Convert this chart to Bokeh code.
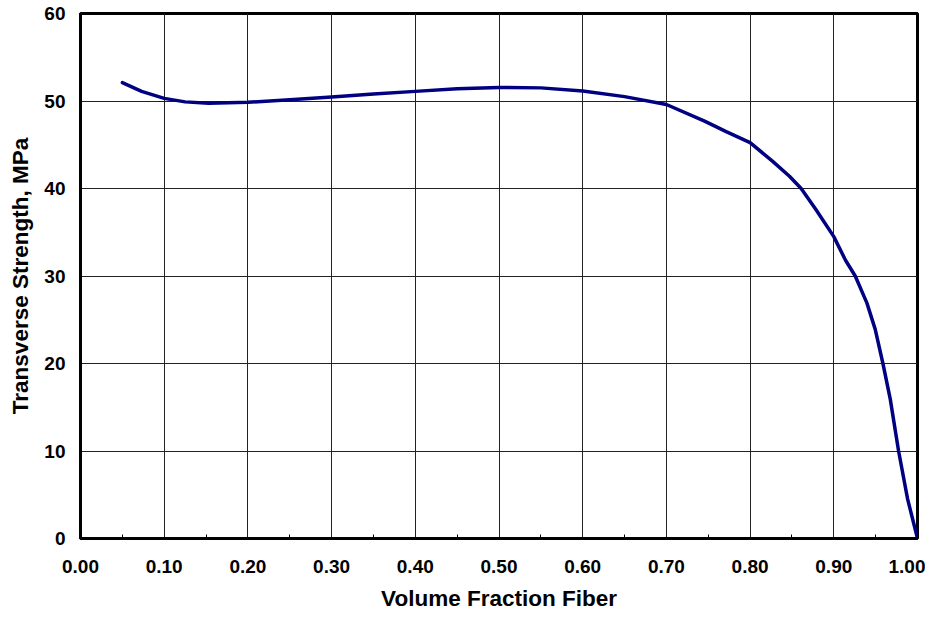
from bokeh.plotting import figure
from bokeh.models import FixedTicker, NumeralTickFormatter, Range1d
from bokeh.embed import file_html
from bokeh.resources import INLINE

# Data
fiber_fraction = [0.05, 0.073, 0.10, 0.125, 0.153, 0.20, 0.25, 0.30, 0.35, 0.40, 0.45,
                  0.50, 0.55, 0.60, 0.65, 0.70, 0.7456, 0.7714, 0.80, 0.827, 0.847,
                  0.861, 0.8786, 0.90, 0.914, 0.9256, 0.9396, 0.9495, 0.9587, 0.9675,
                  0.9774, 0.9882, 1.00]
strength_mpa = [52.1, 51.1, 50.3, 49.9, 49.75, 49.85, 50.15, 50.45, 50.8, 51.1, 51.4,
                51.55, 51.5, 51.15, 50.5, 49.6, 47.7, 46.5, 45.25, 43.1, 41.4,
                40.0, 37.6, 34.5, 31.8, 30.0, 26.9, 23.9, 20.0, 15.9,
                10.0, 4.5, 0.0]

x_ticks = [0.0, 0.1, 0.2, 0.3, 0.4, 0.5, 0.6, 0.7, 0.8, 0.9, 1.0]
x_minor = [0.05, 0.15, 0.25, 0.35, 0.45, 0.55, 0.65, 0.75, 0.85, 0.95]
y_ticks = [0, 10, 20, 30, 40, 50, 60]

FONT = "Liberation Sans"

p = figure(width=925, height=613, output_backend="svg", toolbar_location=None,
           x_range=Range1d(0, 1), y_range=Range1d(0, 60),
           min_border_left=80, min_border_right=8, min_border_top=13, min_border_bottom=73)

p.line(fiber_fraction, strength_mpa, line_color="#000080", line_width=3.5,
       line_join="round", line_cap="round")

p.outline_line_color = "black"
p.outline_line_width = 3

p.xaxis.ticker = FixedTicker(ticks=x_ticks, minor_ticks=x_minor)
p.yaxis.ticker = FixedTicker(ticks=y_ticks)
p.xaxis.formatter = NumeralTickFormatter(format="0.00")
p.yaxis.formatter = NumeralTickFormatter(format="0")

for ax in (p.xaxis[0], p.yaxis[0]):
    ax.axis_line_color = "black"
    ax.axis_line_width = 3
    ax.major_tick_in = 0
    ax.major_tick_out = 0
    ax.major_label_text_font = FONT
    ax.major_label_text_font_style = "bold"
    ax.major_label_text_font_size = "19px"
    ax.major_label_text_color = "black"
    ax.axis_label_text_font = FONT
    ax.axis_label_text_font_style = "bold"
    ax.axis_label_text_font_size = "22.5px"
    ax.axis_label_text_color = "black"

p.xaxis.minor_tick_in = 4
p.xaxis.minor_tick_out = 0
p.xaxis.minor_tick_line_color = "black"
p.xaxis.minor_tick_line_width = 1
p.yaxis.minor_tick_line_color = None

p.xaxis.major_label_standoff = 21
p.yaxis.major_label_standoff = 15
p.xaxis.axis_label = "Volume Fraction Fiber"
p.yaxis.axis_label = "Transverse Strength, MPa"
p.xaxis.axis_label_standoff = 10
p.yaxis.axis_label_standoff = 8

p.xgrid.ticker = FixedTicker(ticks=x_ticks)
p.ygrid.ticker = FixedTicker(ticks=y_ticks)
p.grid.grid_line_color = "#222222"
p.grid.grid_line_width = 1
p.grid.grid_line_alpha = 1

p.background_fill_color = "white"
p.border_fill_color = "white"

open("out.html", "w").write(file_html(p, INLINE))
